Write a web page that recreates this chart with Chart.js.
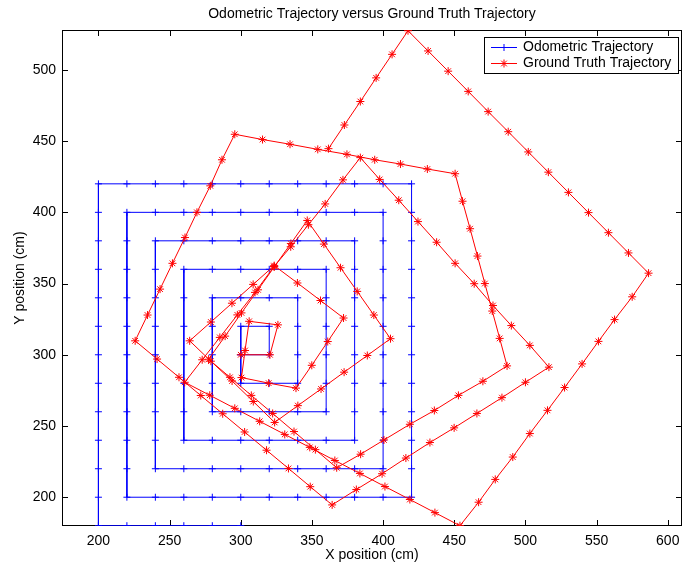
<!DOCTYPE html>
<html>
<head>
<meta charset="utf-8">
<script src="https://cdn.jsdelivr.net/npm/chart.js@4/dist/chart.umd.min.js"></script>
<style>
html,body{margin:0;padding:0;background:#fff;}
#wrap{width:683px;height:569px;position:relative;}
</style>
</head>
<body>
<div id="wrap"><canvas id="c"></canvas></div>
<script>
// ---- data ----
const titleText = 'Odometric Trajectory versus Ground Truth Trajectory';
const xLabel = 'X position (cm)';
const yLabel = 'Y position (cm)';
const seriesNames = ['Odometric Trajectory', 'Ground Truth Trajectory'];
const xTicks = [200, 250, 300, 350, 400, 450, 500, 550, 600];
const yTicks = [200, 250, 300, 350, 400, 450, 500];
const xRange = [174.4, 610];
const yRange = [179.8, 528];

const odoX = [300,320,320,300,300,300,320,340,340,340,340,320,300,280,280,280,280,280,300,320,340,360,360,360,360,360,360,340,320,300,280,260,260,260,260,260,260,260,280,300,320,340,360,380,380,380,380,380,380,380,380,360,340,320,300,280,260,240,240,240,240,240,240,240,240,240,260,280,300,320,340,360,380,400,400,400,400,400,400,400,400,400,400,380,360,340,320,300,280,260,240,220,220,220,220,220,220,220,220,220,220,220,240,260,280,300,320,340,360,380,400,420,420,420,420,420,420,420,420,420,420,420,420,400,380,360,340,320,300,280,260,240,220,200,200,200,200,200,200,200,200,200,200,200,200,200,220,240,260,280,300];
const odoY = [300,300,320,320,300,280,280,280,300,320,340,340,340,340,320,300,280,260,260,260,260,260,280,300,320,340,360,360,360,360,360,360,340,320,300,280,260,240,240,240,240,240,240,240,260,280,300,320,340,360,380,380,380,380,380,380,380,380,360,340,320,300,280,260,240,220,220,220,220,220,220,220,220,220,240,260,280,300,320,340,360,380,400,400,400,400,400,400,400,400,400,400,380,360,340,320,300,280,260,240,220,200,200,200,200,200,200,200,200,200,200,200,220,240,260,280,300,320,340,360,380,400,420,420,420,420,420,420,420,420,420,420,420,420,400,380,360,340,320,300,280,260,240,220,200,180,180,180,180,180,180];

const gtX = [300,320.5,326.1,305.9,303,300.5,319.6,338.8,349.9,361.1,372.2,356,339.8,323.5,308.7,293.8,279,264.1,279,293.9,308.8,323.8,340.1,356.4,372.6,388.9,405.2,393.5,381.8,370.1,358.4,346.7,335.2,323.6,312.1,300.5,289,277.4,292.4,307.4,322.4,337.4,352.4,367.4,384.2,400.6,418.8,436,452.9,470.1,487.1,481.9,476.7,471.5,466.3,461.1,455.8,450.6,431.1,412.2,394.1,374.6,354.1,334.6,315.3,295.8,286.8,278.6,269.2,260.8,252,243.3,234.5,225.8,241.2,256.6,271.9,287.3,302.7,318.1,333.5,348.8,364.2,381.2,399.3,416,432.9,449.9,465.9,483.5,500,516.5,503.1,490.1,477.2,464,450.6,437.6,424.5,411,397.6,384,371.8,359.3,347.5,335.1,323.3,310,297.6,285.3,272.9,260.6,278.2,295.8,313.3,330.9,348.5,366.1,383.7,401.3,418.8,436.4,454,467.1,478.8,491.1,503.1,515.5,527.5,539.8,551.3,562.6,575,586.5,572.4,558.3,544.3,530.2,516.1,502,487.9,473.8,459.8,445.7,431.6,417.5,406.3,395.1,384,372.8,361.6];
const gtY = [300,300,321,323.5,303,284,280.1,276.6,292.6,309.3,325.8,338.1,350.4,362.6,349.4,336.2,323,309.8,295.5,281.6,267.2,252.5,264.3,276,287.8,299.5,311.3,327.9,344.5,361.1,377.7,394.3,378.1,361.8,345.6,329.4,313.1,296.9,284.2,271.5,258.8,246.1,233.4,220.7,230.2,240.2,251.2,260.9,271.5,281.4,292.2,311.5,330.7,350,369.3,388.5,407.8,427.1,430.4,433.9,436.9,440.7,444.2,447.8,451.1,454.8,436.9,418.6,400,382.3,364.2,346.1,327.9,309.8,297,284.2,271.4,258.6,245.8,233,220.2,207.4,194.6,205.4,216.5,227.5,238.4,248.7,258.8,269.9,280.7,291.3,306.6,320.5,334.6,349.9,364.2,379,393.5,408.5,423.1,438.4,422.8,405.9,391.3,375.8,361.9,343.8,328,312.2,296.5,280.7,271.6,262.4,253.3,244.1,235,225.8,216.7,207.5,198.4,189.2,180,196.5,212.5,228.2,244.7,261,277,293.6,309.4,324.7,340.7,357.3,371.5,385.7,399.8,414,428.2,442.4,456.6,470.7,484.9,499.1,513.3,527.5,510.9,494.4,477.8,461.3,444.7];

// ---- styles ----
const BLUE = '#0000ff', RED = '#ff0000';
const FONT = "'Liberation Sans', Arial, Helvetica, sans-serif";
Chart.defaults.font.family = FONT;
Chart.defaults.font.size = 14;
Chart.defaults.color = '#000';

function drawMarker(ctx, style, x, y, r) {
  ctx.beginPath();
  ctx.moveTo(x - r, y); ctx.lineTo(x + r, y);
  ctx.moveTo(x, y - r); ctx.lineTo(x, y + r);
  if (style === 'star') {
    const d = r * Math.SQRT1_2;
    ctx.moveTo(x - d, y - d); ctx.lineTo(x + d, y + d);
    ctx.moveTo(x - d, y + d); ctx.lineTo(x + d, y - d);
  }
  ctx.stroke();
}

const axesBox = {
  id: 'axesBox',
  beforeDatasetsDraw(chart) {
    const {ctx, chartArea: a, scales: {x, y}} = chart;
    const tl = 6;
    ctx.save();
    ctx.strokeStyle = '#000';
    ctx.lineWidth = 1;
    ctx.beginPath();
    xTicks.forEach(v => {
      const px = Math.round(x.getPixelForValue(v)) + 0.5;
      ctx.moveTo(px, a.bottom); ctx.lineTo(px, a.bottom - tl);
      ctx.moveTo(px, a.top); ctx.lineTo(px, a.top + tl);
    });
    yTicks.forEach(v => {
      const py = Math.round(y.getPixelForValue(v)) + 0.5;
      ctx.moveTo(a.left, py); ctx.lineTo(a.left + tl, py);
      ctx.moveTo(a.right, py); ctx.lineTo(a.right - tl, py);
    });
    ctx.stroke();
    ctx.strokeRect(Math.round(a.left) + 0.5, Math.round(a.top) + 0.5,
                   Math.round(a.right - a.left) - 1, Math.round(a.bottom - a.top) - 1);
    ctx.restore();
  }
};

const boxLegend = {
  id: 'boxLegend',
  afterDraw(chart) {
    const ctx = chart.ctx;
    const bx = 484, by = 37, bw = 194, bh = 36;
    ctx.save();
    ctx.fillStyle = '#fff';
    ctx.fillRect(bx, by, bw, bh);
    ctx.strokeStyle = '#000';
    ctx.lineWidth = 1;
    ctx.strokeRect(bx + 0.5, by + 0.5, bw, bh);
    const items = chart.data.datasets.map((ds, i) => ({
      label: ds.label, color: ds.borderColor, style: ds.pointStyle, r: ds.pointRadius, y: by + 10.5 + i * 16
    }));
    items.forEach(it => {
      ctx.strokeStyle = it.color;
      ctx.lineWidth = 1;
      ctx.beginPath();
      ctx.moveTo(491, it.y); ctx.lineTo(517, it.y);
      ctx.stroke();
      drawMarker(ctx, it.style, 504, it.y, it.r);
      ctx.fillStyle = '#000';
      ctx.font = '14px ' + FONT;
      ctx.textBaseline = 'middle';
      ctx.textAlign = 'left';
      ctx.fillText(it.label, 523, it.y);
    });
    ctx.restore();
  }
};

const chart = new Chart(document.getElementById('c'), {
  type: 'scatter',
  data: {
    datasets: [
      {
        label: seriesNames[0],
        data: odoX.map((v, i) => ({x: v, y: odoY[i]})),
        showLine: true,
        borderColor: BLUE,
        backgroundColor: BLUE,
        borderWidth: 1,
        pointStyle: 'cross',
        pointRadius: 3.5,
        pointBorderWidth: 1,
        pointBorderColor: BLUE,
        pointHoverRadius: 3.5,
        tension: 0,
        order: 2
      },
      {
        label: seriesNames[1],
        data: gtX.map((v, i) => ({x: v, y: gtY[i]})),
        showLine: true,
        borderColor: RED,
        backgroundColor: RED,
        borderWidth: 1,
        pointStyle: 'star',
        pointRadius: 4,
        pointBorderWidth: 1,
        pointBorderColor: RED,
        pointHoverRadius: 4,
        tension: 0,
        order: 1
      }
    ]
  },
  options: {
    responsive: true,
    maintainAspectRatio: false,
    devicePixelRatio: 1,
    animation: false,
    events: [],
    layout: {autoPadding: false, padding: {left: 0, right: 1, top: 0, bottom: 0}},
    plugins: {
      legend: {display: false},
      tooltip: {enabled: false},
      title: {
        display: true,
        text: titleText,
        fullSize: false,
        color: '#000',
        font: {size: 14, weight: 'normal', family: FONT},
        padding: {top: 6, bottom: 7.2}
      }
    },
    scales: {
      x: {
        type: 'linear',
        min: xRange[0], max: xRange[1],
        afterBuildTicks: s => { s.ticks = xTicks.map(v => ({value: v})); },
        afterFit: s => { s.height = 43; s.paddingLeft = 0; s.paddingRight = 0; },
        grid: {display: false, drawTicks: false},
        border: {display: false},
        ticks: {color: '#000', padding: 7, maxRotation: 0, autoSkip: false, font: {size: 14}},
        title: {display: true, text: xLabel, color: '#000', font: {size: 14}, padding: {top: 0, bottom: 5.6}}
      },
      y: {
        type: 'linear',
        min: yRange[0], max: yRange[1],
        afterBuildTicks: s => { s.ticks = yTicks.map(v => ({value: v})); },
        afterFit: s => { s.width = 62; s.paddingTop = 0; s.paddingBottom = 0; },
        grid: {display: false, drawTicks: false},
        border: {display: false},
        ticks: {color: '#000', padding: 6, autoSkip: false, font: {size: 14}},
        title: {display: true, text: yLabel, color: '#000', font: {size: 14}, padding: {top: 11.6, bottom: 0}}
      }
    }
  },
  plugins: [axesBox, boxLegend]
});
</script>
</body>
</html>
